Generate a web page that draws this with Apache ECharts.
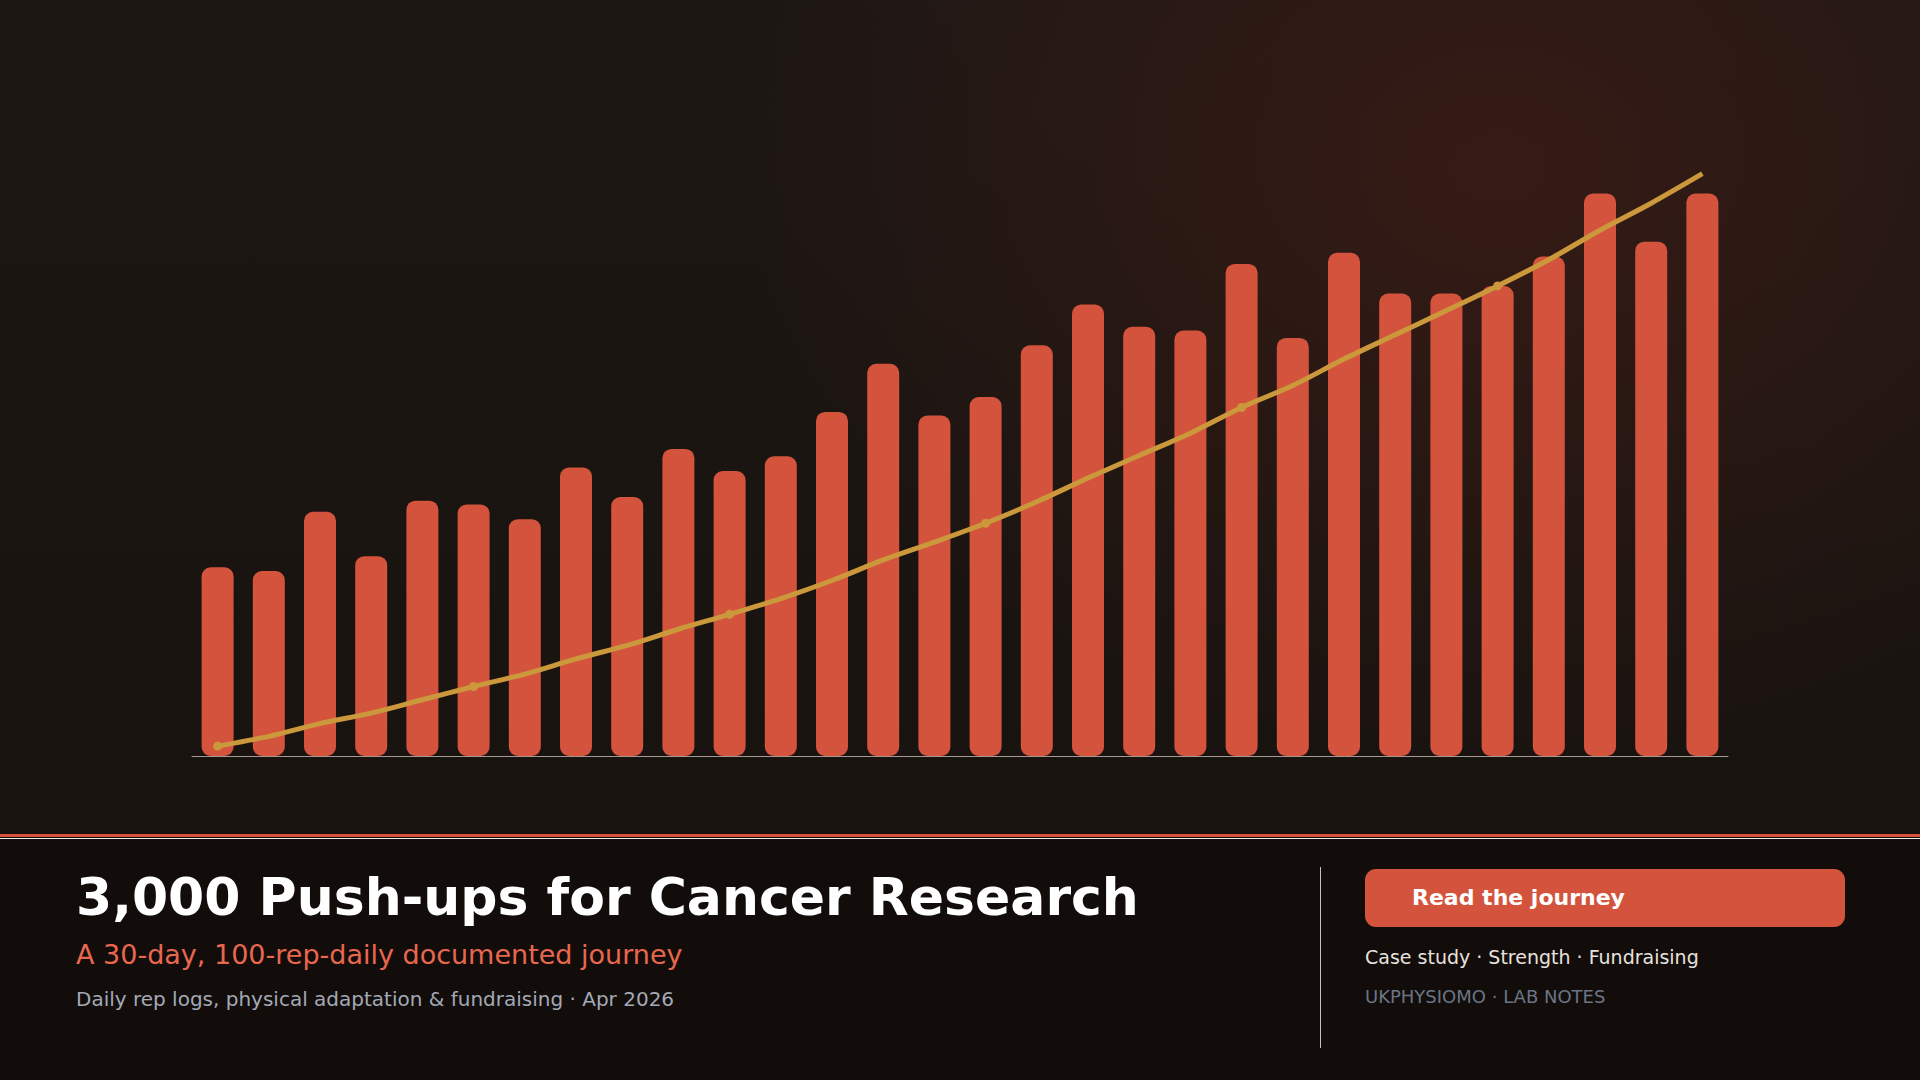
<!DOCTYPE html>
<html>
<head>
<meta charset="utf-8">
<script src="https://cdn.jsdelivr.net/npm/echarts@6/dist/echarts.min.js"></script>
<style>
  html, body { margin: 0; padding: 0; width: 1920px; height: 1080px; overflow: hidden; background: #120d0b; font-family: "DejaVu Sans", sans-serif; }
  #wrap { position: relative; width: 1920px; height: 1080px; }
  #chart { position: absolute; left: 0; top: 0; width: 1920px; height: 834px;
    background:
      radial-gradient(ellipse 1000px 780px at 1500px 170px, rgba(105, 36, 26, 0.34), rgba(0, 0, 0, 0) 75%),
      linear-gradient(180deg, #1d1714 0%, #19130f 100%); }
  .rule-red { position: absolute; left: 0; top: 834px; width: 1920px; height: 3px; background: #d4533d; }
  .rule-white { position: absolute; left: 0; top: 838px; width: 1920px; height: 1px; background: #f2ece8; }
  #footer { position: absolute; left: 0; top: 839px; width: 1920px; height: 241px; background: #120d0b; }
  .t { position: absolute; white-space: nowrap; line-height: 1; }
  .title { left: 76px; top: 871px; font-size: 52px; font-weight: bold; color: #ffffff; }
  .sub { left: 76px; top: 941px; font-size: 27px; color: #e8674f; }
  .meta { left: 76px; top: 989px; font-size: 20px; color: #a3a9b5; }
  .divider { position: absolute; left: 1320px; top: 867px; width: 1px; height: 181px; background: rgba(255, 255, 255, 0.75); }
  .btn { position: absolute; left: 1365px; top: 869px; width: 480px; height: 58px; border-radius: 11px; background: #d4533d; }
  .btn span { position: absolute; left: 47px; top: 18px; font-size: 22px; font-weight: bold; color: #ffffff; white-space: nowrap; line-height: 1; }
  .tags { left: 1365px; top: 948px; font-size: 19px; color: #e8e2de; }
  .brand { left: 1365px; top: 988px; font-size: 18px; color: #6b7585; }
</style>
</head>
<body>
<div id="wrap">
  <div id="chart"></div>
  <div class="rule-red"></div>
  <div class="rule-white"></div>
  <div id="footer"></div>
  <div class="t title">3,000 Push-ups for Cancer Research</div>
  <div class="t sub">A 30-day, 100-rep-daily documented journey</div>
  <div class="t meta">Daily rep logs, physical adaptation &amp; fundraising · Apr 2026</div>
  <div class="divider"></div>
  <div class="btn"><span>Read the journey</span></div>
  <div class="t tags">Case study · Strength · Fundraising</div>
  <div class="t brand">UKPHYSIOMO · LAB NOTES</div>
</div>
<script>
  // days 1..30
  var days = ['1','2','3','4','5','6','7','8','9','10','11','12','13','14','15',
              '16','17','18','19','20','21','22','23','24','25','26','27','28','29','30'];

  // push-ups per day
  var dailyReps = [51, 50, 66, 54, 69, 68, 64, 78, 70, 83,
                   77, 81, 93, 106, 92, 97, 111, 122, 116, 115,
                   133, 113, 136, 125, 125, 127, 135, 152, 139, 152];

  // running total
  var totalReps = [51, 101, 167, 221, 290, 358, 422, 500, 570, 653,
                   730, 811, 904, 1010, 1102, 1199, 1310, 1432, 1548, 1663,
                   1796, 1909, 2045, 2170, 2295, 2422, 2557, 2709, 2848, 3000];

  var barColor = '#d4533d';
  var lineColor = '#cb983b';

  var option = {
    animation: false,
    grid: { left: 192, right: 192, top: 164, bottom: 78 },
    xAxis: {
      type: 'category',
      data: days,
      axisLine: { show: true, lineStyle: { color: '#a39a94', width: 1 } },
      axisTick: { show: false },
      axisLabel: { show: false }
    },
    yAxis: [
      { type: 'value', min: 0, max: 160, show: false, splitLine: { show: false } },
      { type: 'value', min: 0, max: 3050, show: false, splitLine: { show: false } }
    ],
    series: [
      {
        name: 'Daily reps',
        type: 'bar',
        data: dailyReps,
        barWidth: 32,
        itemStyle: { color: barColor, borderRadius: 9 }
      },
      {
        name: 'Cumulative',
        type: 'line',
        yAxisIndex: 1,
        data: totalReps,
        smooth: 0.3,
        showAllSymbol: true,
        symbol: 'circle',
        symbolSize: function (val, params) {
          return params.dataIndex % 5 === 0 ? 9 : 0;
        },
        lineStyle: { color: lineColor, width: 5 },
        itemStyle: { color: lineColor },
        z: 5
      }
    ]
  };

  var myChart = echarts.init(document.getElementById('chart'), null, { renderer: 'canvas' });
  myChart.setOption(option);
</script>
</body>
</html>
